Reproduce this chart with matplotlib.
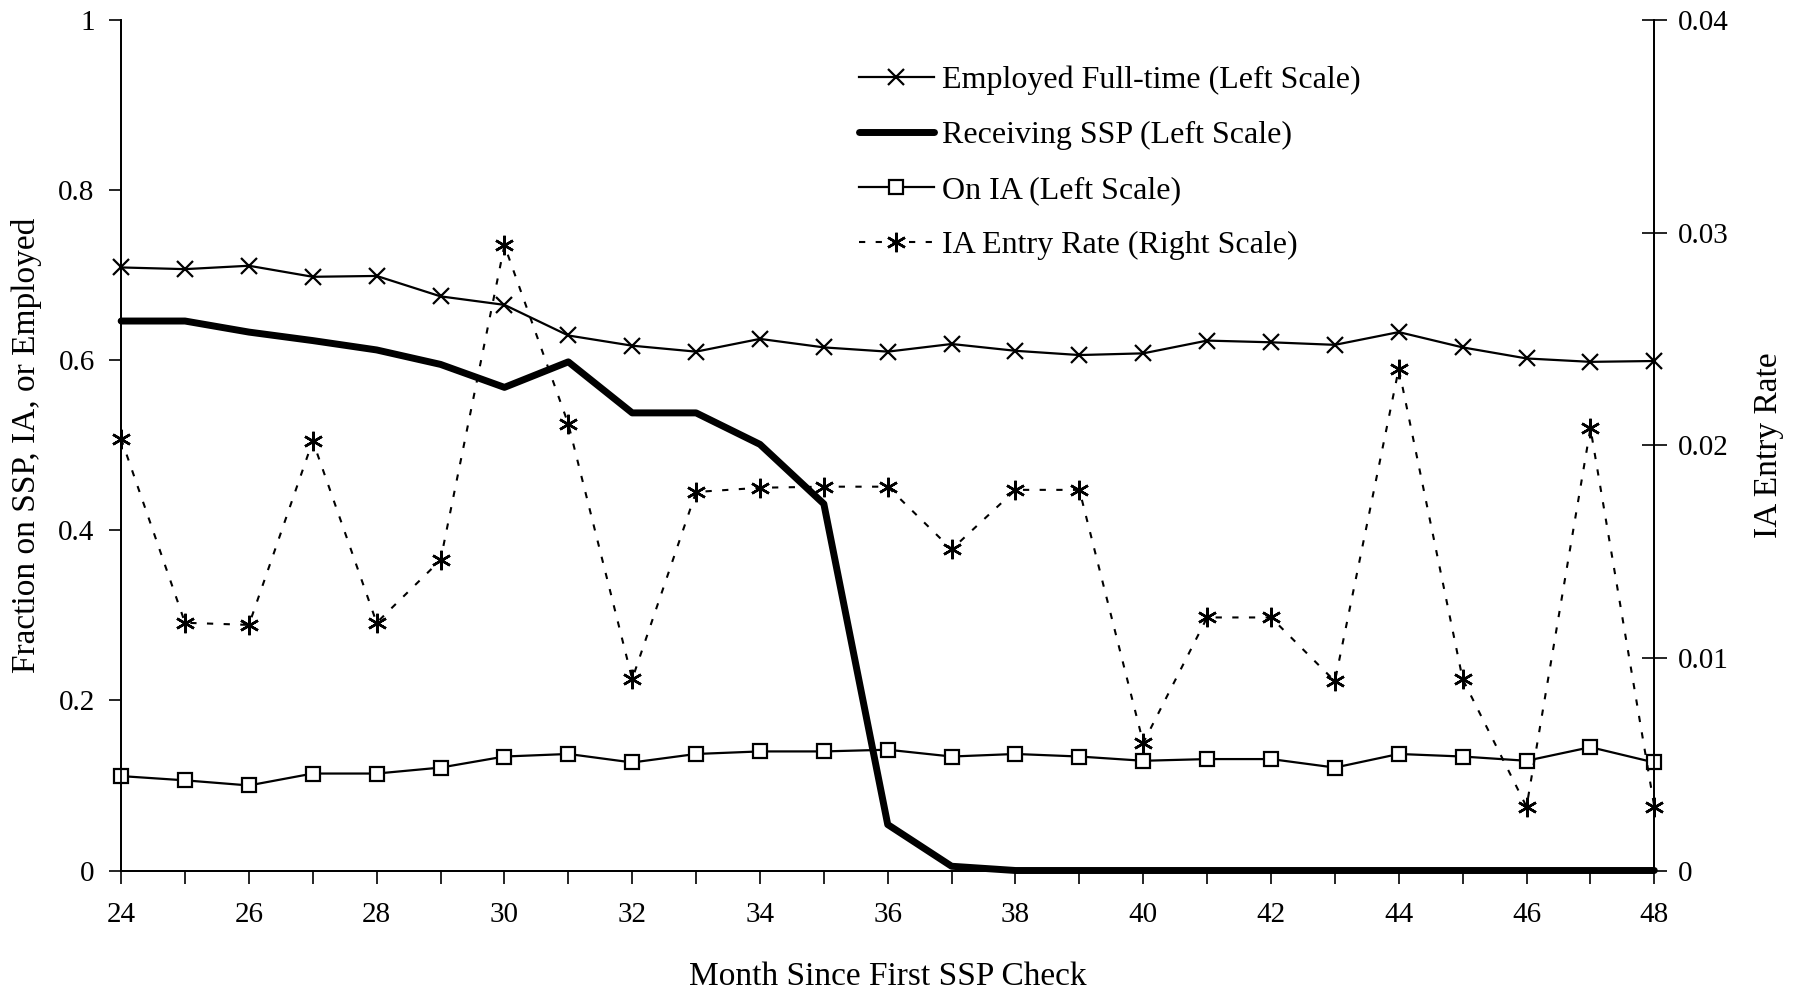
import matplotlib
matplotlib.use('Agg')
from matplotlib import pyplot
from matplotlib.ticker import MultipleLocator, FormatStrFormatter

months = list(range(24, 49))
employed = [0.709, 0.707, 0.711, 0.698, 0.699, 0.675, 0.665, 0.629, 0.617, 0.610,
            0.625, 0.615, 0.610, 0.619, 0.611, 0.606, 0.608, 0.623, 0.621, 0.618,
            0.633, 0.615, 0.602, 0.598, 0.599]
receiving_ssp = [0.646, 0.646, 0.633, 0.623, 0.612, 0.595, 0.568, 0.598, 0.538, 0.538,
                 0.501, 0.431, 0.054, 0.005, 0.0, 0.0, 0.0, 0.0, 0.0, 0.0,
                 0.0, 0.0, 0.0, 0.0, 0.0]
on_ia = [0.111, 0.106, 0.100, 0.114, 0.114, 0.121, 0.134, 0.137, 0.127, 0.137,
         0.140, 0.140, 0.142, 0.134, 0.137, 0.134, 0.129, 0.131, 0.131, 0.121,
         0.137, 0.134, 0.129, 0.145, 0.127]
ia_entry = [0.0203, 0.01165, 0.01155, 0.0202, 0.01165, 0.0146, 0.0294, 0.0210, 0.0090, 0.0178,
            0.0180, 0.01805, 0.01805, 0.0151, 0.0179, 0.0179, 0.0060, 0.0119, 0.0119, 0.0089,
            0.0236, 0.0090, 0.0030, 0.0208, 0.0030]

pyplot.rcParams['font.family'] = ['Liberation Serif', 'DejaVu Serif']
TICK_FS = 21
LABEL_FS = 24
LEGEND_FS = 23

fig = pyplot.figure(figsize=(18.08, 9.96), dpi=100)
ax = fig.add_axes([0.067, 0.126, 0.848, 0.854])
ax2 = ax.twinx()

asterisk = (6, 2, 0)
l1, = ax.plot(months, employed, color='black', lw=1.6, marker='x', ms=12, mew=1.6,
              label='Employed Full-time (Left Scale)', clip_on=False, zorder=4)
l2, = ax.plot(months, receiving_ssp, color='black', lw=5, solid_capstyle='round',
              label='Receiving SSP (Left Scale)', clip_on=False, zorder=5)
l3, = ax.plot(months, on_ia, color='black', lw=1.6, marker='s', ms=10, mew=1.6,
              mfc='white', label='On IA (Left Scale)', clip_on=False, zorder=4)
l4, = ax2.plot(months, ia_entry, color='black', lw=1.5, ls=(0, (3, 5)),
               marker=asterisk, ms=14, mew=1.8,
               label='IA Entry Rate (Right Scale)', clip_on=False, zorder=4)

ax.set_xlim(24, 48)
ax.set_ylim(0, 1)
ax2.set_ylim(0, 0.04)
ax.xaxis.set_major_locator(MultipleLocator(2))
ax.xaxis.set_minor_locator(MultipleLocator(1))
ax.yaxis.set_major_locator(MultipleLocator(0.2))
ax2.yaxis.set_major_locator(MultipleLocator(0.01))
ax.yaxis.set_major_formatter(FormatStrFormatter('%g'))
ax2.yaxis.set_major_formatter(FormatStrFormatter('%g'))

for a in (ax, ax2):
    a.spines['top'].set_visible(False)
    for s in a.spines.values():
        s.set_linewidth(1.3)
ax.tick_params(axis='x', which='both', direction='out', length=9, width=1.2,
               labelsize=TICK_FS, pad=14)
ax.tick_params(axis='y', direction='out', length=9, width=1.2, labelsize=TICK_FS, pad=10)
ax2.tick_params(axis='y', direction='inout', length=18, width=1.2, labelsize=TICK_FS, pad=8)

ax.set_xlabel('Month Since First SSP Check', fontsize=LABEL_FS, labelpad=24)
ax.set_ylabel('Fraction on SSP, IA, or Employed', fontsize=LABEL_FS, labelpad=12)
ax2.set_ylabel('IA Entry Rate', fontsize=LABEL_FS, labelpad=18)

# legend sits inside the plot, no frame
fig.legend(handles=[l1, l2, l3, l4], loc='upper left', bbox_to_anchor=(0.468, 0.947),
           frameon=False, fontsize=LEGEND_FS, handlelength=2.35, handletextpad=0.25,
           labelspacing=0.8, borderaxespad=0)

fig.savefig('out.png', dpi=100)
pyplot.close(fig)
